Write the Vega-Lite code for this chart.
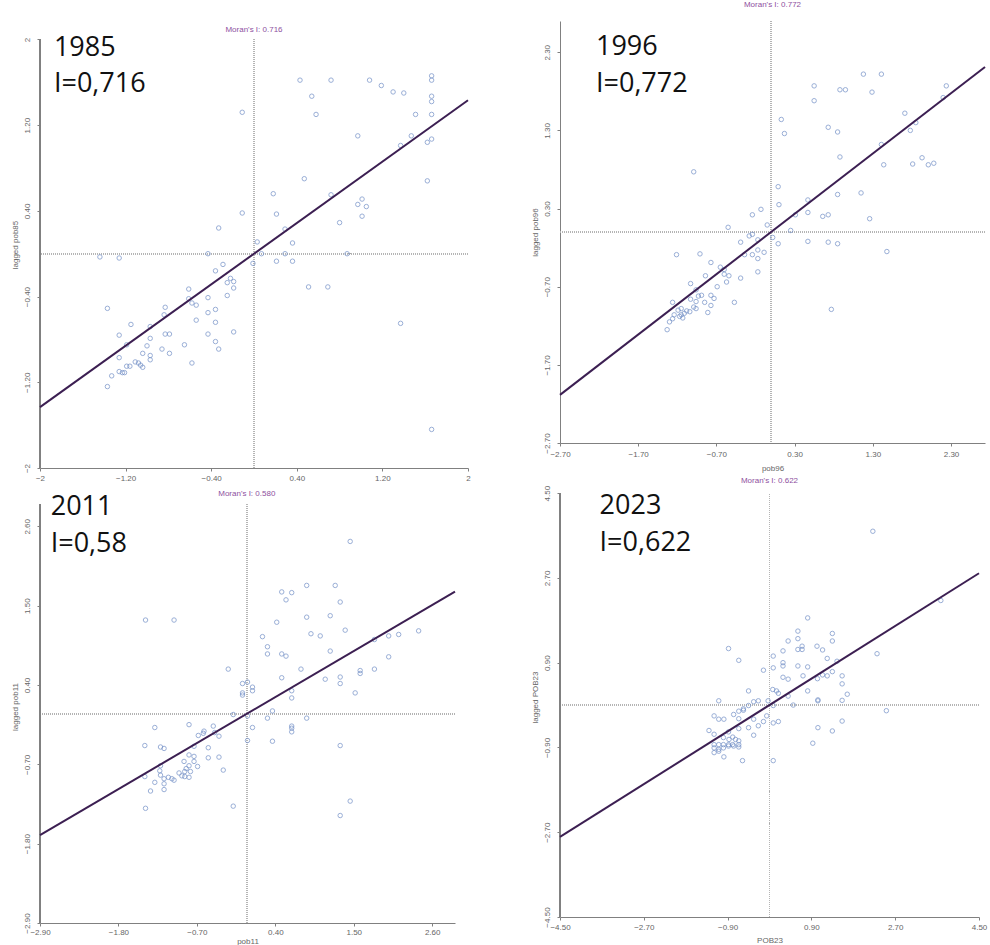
{
  "$schema": "https://vega.github.io/schema/vega-lite/v6.json",
  "padding": {"left": 11, "top": 0, "right": 0, "bottom": 0},
  "background": "white",
  "columns": 2,
  "spacing": 58,
  "resolve": {"scale": {"x": "independent", "y": "independent"}},
  "config": {
    "view": {"stroke": null},
    "font": "Liberation Sans",
    "axis": {"domainColor": "#808080", "tickColor": "#808080", "tickSize": 3, "labelColor": "#666666", "labelFontSize": 8, "titleColor": "#666666", "titleFontSize": 8, "titleFontWeight": "normal", "grid": false, "labelFont": "Liberation Sans", "titleFont": "Liberation Sans", "labelFlush": false, "labelOverlap": false},
    "axisY": {"labelAngle": -90, "labelPadding": 6, "titlePadding": 4},
    "axisX": {"labelPadding": 3, "titlePadding": 5},
    "title": {"fontSize": 8, "color": "#8e4fa0", "fontWeight": "normal", "font": "Liberation Sans", "frame": "group"}
  },
  "datasets": {
    "p85": [
      {"x":0.43,"y":1.62},{"x":0.72,"y":1.62},{"x":1.08,"y":1.62},{"x":1.66,"y":1.66},{"x":1.66,"y":1.62},{"x":1.19,"y":1.57},{"x":1.30,"y":1.51},{"x":1.40,"y":1.50},{"x":0.54,"y":1.47},{"x":1.66,"y":1.47},{"x":1.66,"y":1.42},{"x":0.58,"y":1.30},{"x":1.51,"y":1.30},{"x":1.66,"y":1.30},{"x":-0.11,"y":1.32},{"x":0.97,"y":1.10},{"x":1.47,"y":1.10},{"x":1.37,"y":1.01},{"x":1.62,"y":1.04},{"x":1.66,"y":1.07},{"x":0.47,"y":0.70},{"x":1.62,"y":0.68},{"x":0.18,"y":0.56},{"x":0.72,"y":0.55},{"x":0.97,"y":0.46},{"x":1.01,"y":0.51},{"x":1.05,"y":0.44},{"x":1.01,"y":0.35},{"x":-0.11,"y":0.38},{"x":0.21,"y":0.37},{"x":0.80,"y":0.29},{"x":-0.33,"y":0.24},{"x":0.29,"y":0.23},{"x":0.36,"y":0.10},{"x":0.03,"y":0.11},{"x":0.07,"y":0.00},{"x":0.29,"y":0.00},{"x":0.87,"y":0.00},{"x":-0.43,"y":0.00},{"x":-0.01,"y":-0.09},{"x":0.21,"y":-0.07},{"x":0.36,"y":-0.07},{"x":-1.44,"y":-0.03},{"x":-1.26,"y":-0.04},{"x":0.51,"y":-0.31},{"x":0.69,"y":-0.31},{"x":1.37,"y":-0.65},{"x":1.66,"y":-1.64},
      {"x":-0.29,"y":-0.10},{"x":-0.36,"y":-0.16},{"x":-0.22,"y":-0.23},{"x":-0.19,"y":-0.26},{"x":-0.25,"y":-0.27},{"x":-0.19,"y":-0.32},{"x":-0.61,"y":-0.33},{"x":-0.25,"y":-0.39},{"x":-0.61,"y":-0.42},{"x":-0.43,"y":-0.41},{"x":-0.58,"y":-0.46},{"x":-0.54,"y":-0.48},{"x":-0.83,"y":-0.50},{"x":-1.37,"y":-0.51},{"x":-0.36,"y":-0.52},{"x":-0.43,"y":-0.55},{"x":-0.84,"y":-0.57},{"x":-0.54,"y":-0.62},{"x":-0.36,"y":-0.64},{"x":-1.15,"y":-0.66},{"x":-0.97,"y":-0.68},{"x":-1.26,"y":-0.76},{"x":-0.83,"y":-0.75},{"x":-0.79,"y":-0.75},{"x":-0.43,"y":-0.75},{"x":-0.19,"y":-0.73},{"x":-0.97,"y":-0.79},{"x":-0.36,"y":-0.82},{"x":-0.65,"y":-0.85},{"x":-1.00,"y":-0.86},{"x":-1.19,"y":-0.85},{"x":-0.33,"y":-0.89},{"x":-0.86,"y":-0.89},{"x":-1.04,"y":-0.93},{"x":-0.79,"y":-0.93},{"x":-0.97,"y":-0.95},{"x":-0.97,"y":-0.99},{"x":-1.26,"y":-0.97},{"x":-1.11,"y":-1.01},{"x":-1.08,"y":-1.02},{"x":-1.06,"y":-1.04},{"x":-1.04,"y":-1.06},{"x":-1.19,"y":-1.05},{"x":-1.16,"y":-1.05},{"x":-0.58,"y":-1.02},{"x":-1.26,"y":-1.10},{"x":-1.23,"y":-1.11},{"x":-1.33,"y":-1.14},{"x":-1.37,"y":-1.24},{"x":-1.21,"y":-1.11}
    ],
    "p96": [
      {"x":1.18,"y":2.02},{"x":1.41,"y":2.02},{"x":0.55,"y":1.87},{"x":0.88,"y":1.82},{"x":0.95,"y":1.82},{"x":1.29,"y":1.79},{"x":2.24,"y":1.87},{"x":2.20,"y":1.72},{"x":0.55,"y":1.68},{"x":1.71,"y":1.52},{"x":0.13,"y":1.44},{"x":0.17,"y":1.26},{"x":0.73,"y":1.34},{"x":0.85,"y":1.28},{"x":1.85,"y":1.40},{"x":1.78,"y":1.30},{"x":1.41,"y":1.12},{"x":0.88,"y":0.96},{"x":1.93,"y":0.95},{"x":1.44,"y":0.86},{"x":1.81,"y":0.87},{"x":2.01,"y":0.86},{"x":2.08,"y":0.88},{"x":-0.99,"y":0.77},{"x":0.09,"y":0.58},{"x":1.15,"y":0.50},{"x":0.85,"y":0.48},{"x":0.10,"y":0.35},{"x":0.47,"y":0.41},{"x":-0.13,"y":0.29},{"x":-0.24,"y":0.22},{"x":0.47,"y":0.25},{"x":0.66,"y":0.20},{"x":0.73,"y":0.22},{"x":0.31,"y":0.22},{"x":1.26,"y":0.17},{"x":-0.05,"y":0.09},{"x":0.25,"y":0.02},{"x":-0.55,"y":0.06},{"x":0.02,"y":-0.07},{"x":0.09,"y":-0.15},{"x":0.47,"y":-0.12},{"x":0.73,"y":-0.13},{"x":0.85,"y":-0.15},{"x":1.48,"y":-0.25},{"x":-1.21,"y":-0.29},{"x":-0.91,"y":-0.28},{"x":0.77,"y":-0.99},{"x":-0.24,"y":-0.03},{"x":-0.28,"y":-0.05},{"x":-0.39,"y":-0.13},{"x":-0.17,"y":-0.10},{"x":-0.17,"y":-0.23},{"x":-0.09,"y":-0.26},{"x":-0.24,"y":-0.29},{"x":-0.34,"y":-0.29},{"x":-0.17,"y":-0.34},{"x":-0.77,"y":-0.39},{"x":-0.65,"y":-0.45},{"x":-0.60,"y":-0.48},{"x":-0.60,"y":-0.54},{"x":-0.54,"y":-0.56},{"x":-0.57,"y":-0.64},{"x":-0.17,"y":-0.51},{"x":-0.39,"y":-0.59},{"x":-0.84,"y":-0.56},{"x":-1.03,"y":-0.66},{"x":-0.69,"y":-0.70},{"x":-0.96,"y":-0.74},{"x":-0.89,"y":-0.81},{"x":-0.93,"y":-0.82},{"x":-0.77,"y":-0.81},{"x":-0.73,"y":-0.85},{"x":-1.03,"y":-0.86},{"x":-0.85,"y":-0.90},{"x":-0.77,"y":-0.94},{"x":-0.47,"y":-0.90},{"x":-1.26,"y":-0.90},{"x":-1.15,"y":-0.98},{"x":-1.19,"y":-1.00},{"x":-0.99,"y":-0.96},{"x":-0.96,"y":-0.98},{"x":-1.08,"y":-1.01},{"x":-1.04,"y":-1.02},{"x":-1.11,"y":-1.04},{"x":-1.15,"y":-1.06},{"x":-1.13,"y":-1.10},{"x":-0.81,"y":-1.03},{"x":-1.24,"y":-1.06},{"x":-1.26,"y":-1.11},{"x":-1.30,"y":-1.15},{"x":-1.33,"y":-1.25},{"x":-1.17,"y":-1.08},{"x":-0.96,"y":-0.89}
    ],
    "p11": [
      {"x":1.45,"y":2.39},{"x":0.84,"y":1.78},{"x":1.24,"y":1.78},{"x":0.49,"y":1.69},{"x":0.63,"y":1.68},{"x":0.55,"y":1.58},{"x":1.31,"y":1.55},{"x":-1.42,"y":1.30},{"x":-1.02,"y":1.30},{"x":0.84,"y":1.34},{"x":1.17,"y":1.36},{"x":0.42,"y":1.27},{"x":1.38,"y":1.16},{"x":2.41,"y":1.15},{"x":0.90,"y":1.11},{"x":1.03,"y":1.08},{"x":1.99,"y":1.08},{"x":2.13,"y":1.10},{"x":0.22,"y":1.07},{"x":1.79,"y":1.03},{"x":0.29,"y":0.93},{"x":0.29,"y":0.83},{"x":0.49,"y":0.83},{"x":0.55,"y":0.80},{"x":1.17,"y":0.87},{"x":1.99,"y":0.79},{"x":-0.26,"y":0.62},{"x":0.76,"y":0.62},{"x":1.79,"y":0.62},{"x":1.59,"y":0.60},{"x":1.59,"y":0.56},{"x":0.49,"y":0.50},{"x":1.10,"y":0.48},{"x":1.31,"y":0.51},{"x":1.31,"y":0.42},{"x":1.52,"y":0.29},{"x":0.01,"y":0.44},{"x":-0.06,"y":0.42},{"x":-0.06,"y":0.29},{"x":-0.06,"y":0.26},{"x":0.08,"y":0.37},{"x":0.08,"y":0.32},{"x":0.63,"y":0.32},{"x":0.63,"y":0.22},{"x":-0.19,"y":-0.01},{"x":0.36,"y":0.04},{"x":0.01,"y":-0.03},{"x":0.29,"y":-0.06},{"x":0.84,"y":-0.06},{"x":0.08,"y":-0.19},{"x":0.63,"y":-0.17},{"x":0.63,"y":-0.20},{"x":0.63,"y":-0.25},{"x":0.01,"y":-0.37},{"x":0.36,"y":-0.38},{"x":1.31,"y":-0.44},{"x":1.45,"y":-1.21},{"x":1.31,"y":-1.41},{"x":-0.19,"y":-1.28},{"x":-1.42,"y":-1.31},
      {"x":-1.29,"y":-0.19},{"x":-0.81,"y":-0.15},{"x":-0.47,"y":-0.17},{"x":-0.60,"y":-0.24},{"x":-0.61,"y":-0.27},{"x":-0.68,"y":-0.30},{"x":-0.45,"y":-0.26},{"x":-0.39,"y":-0.31},{"x":-1.43,"y":-0.44},{"x":-1.21,"y":-0.46},{"x":-1.16,"y":-0.48},{"x":-0.74,"y":-0.45},{"x":-0.54,"y":-0.47},{"x":-0.81,"y":-0.57},{"x":-0.74,"y":-0.59},{"x":-0.54,"y":-0.61},{"x":-0.39,"y":-0.60},{"x":-0.88,"y":-0.66},{"x":-0.74,"y":-0.66},{"x":-0.69,"y":-0.73},{"x":-0.81,"y":-0.72},{"x":-0.85,"y":-0.76},{"x":-0.79,"y":-0.80},{"x":-0.87,"y":-0.80},{"x":-1.21,"y":-0.72},{"x":-1.22,"y":-0.79},{"x":-0.95,"y":-0.82},{"x":-0.91,"y":-0.86},{"x":-0.87,"y":-0.87},{"x":-0.81,"y":-0.88},{"x":-1.10,"y":-0.88},{"x":-1.05,"y":-0.90},{"x":-1.02,"y":-0.92},{"x":-1.16,"y":-0.90},{"x":-1.21,"y":-0.85},{"x":-1.43,"y":-0.87},{"x":-1.29,"y":-0.95},{"x":-1.16,"y":-0.97},{"x":-1.35,"y":-1.07},{"x":-1.16,"y":-1.05},{"x":-0.33,"y":-0.78}
    ],
    "p23": [
      {"x":2.22,"y":3.69},{"x":3.68,"y":2.22},{"x":2.31,"y":1.09},{"x":2.51,"y":-0.12},{"x":0.82,"y":1.85},{"x":0.61,"y":1.57},{"x":1.35,"y":1.52},{"x":1.35,"y":1.36},{"x":0.40,"y":1.36},{"x":0.61,"y":1.41},{"x":0.61,"y":1.18},{"x":0.70,"y":1.18},{"x":0.70,"y":1.25},{"x":1.02,"y":1.25},{"x":1.14,"y":1.17},{"x":-0.88,"y":1.20},{"x":0.29,"y":1.15},{"x":-0.66,"y":0.95},{"x":0.08,"y":1.04},{"x":1.24,"y":0.99},{"x":0.29,"y":0.90},{"x":0.29,"y":0.83},{"x":0.61,"y":0.83},{"x":0.08,"y":0.79},{"x":0.82,"y":0.81},{"x":-0.13,"y":0.74},{"x":1.45,"y":0.93},{"x":1.35,"y":0.71},{"x":0.29,"y":0.59},{"x":0.40,"y":0.55},{"x":0.72,"y":0.62},{"x":1.03,"y":0.56},{"x":1.14,"y":0.64},{"x":1.24,"y":0.62},{"x":1.56,"y":0.62},{"x":1.56,"y":0.45},{"x":-0.45,"y":0.30},{"x":0.07,"y":0.33},{"x":0.15,"y":0.30},{"x":0.19,"y":0.25},{"x":0.40,"y":0.19},{"x":0.82,"y":0.30},{"x":1.67,"y":0.23},{"x":1.04,"y":0.11},{"x":1.04,"y":0.09},{"x":1.56,"y":0.10},{"x":0.51,"y":0.00},{"x":-1.09,"y":0.09},{"x":-0.03,"y":0.09},{"x":-0.24,"y":0.09},{"x":-0.34,"y":0.07},{"x":-0.45,"y":-0.01},{"x":-0.56,"y":-0.08},{"x":-0.66,"y":-0.13},{"x":0.08,"y":-0.01},{"x":-0.06,"y":-0.23},{"x":-0.34,"y":-0.30},{"x":-0.56,"y":-0.11},{"x":-0.77,"y":-0.20},{"x":-1.19,"y":-0.23},{"x":-1.09,"y":-0.30},{"x":-0.98,"y":-0.30},{"x":-0.66,"y":-0.29},{"x":-0.13,"y":-0.35},{"x":-0.24,"y":-0.44},{"x":-0.45,"y":-0.48},{"x":0.08,"y":-0.38},{"x":0.19,"y":-0.35},{"x":-1.30,"y":-0.54},{"x":-0.66,"y":-0.50},{"x":-0.34,"y":-0.64},{"x":-0.88,"y":-0.57},{"x":-1.19,"y":-0.62},{"x":-0.99,"y":-0.69},{"x":-0.79,"y":-0.68},{"x":-0.66,"y":-0.76},{"x":-1.19,"y":-0.84},{"x":-1.09,"y":-0.84},{"x":-0.99,"y":-0.84},{"x":-0.88,"y":-0.84},{"x":-0.79,"y":-0.84},{"x":-0.66,"y":-0.84},{"x":-1.19,"y":-0.91},{"x":-1.09,"y":-0.94},{"x":-0.99,"y":-0.91},{"x":-0.88,"y":-0.87},{"x":-0.77,"y":-0.87},{"x":-0.66,"y":-0.89},{"x":-1.19,"y":-1.01},{"x":-1.09,"y":-0.98},{"x":-0.98,"y":-1.10},{"x":-0.58,"y":-1.18},{"x":0.08,"y":-1.18},{"x":0.93,"y":-0.81},{"x":1.04,"y":-0.48},{"x":1.35,"y":-0.55},{"x":1.56,"y":-0.34},{"x":-0.73,"y":-0.73},{"x":-0.87,"y":-0.73}
    ],
    "l85": [{"x":-2,"y":-1.432},{"x":2,"y":1.432}],
    "l96": [{"x":-2.7,"y":-2.084},{"x":2.735,"y":2.111}],
    "l11": [{"x":-2.9,"y":-1.682},{"x":2.92,"y":1.694}],
    "l23": [{"x":-4.5,"y":-2.799},{"x":4.5,"y":2.799}],
    "t85": [{"x":-1.87,"y":1.85,"t":"1985"},{"x":-1.87,"y":1.51,"t":"I=0,716"}],
    "t96": [{"x":-2.24,"y":2.26,"t":"1996"},{"x":-2.24,"y":1.79,"t":"I=0,772"}],
    "t11": [{"x":-2.75,"y":2.76,"t":"2011"},{"x":-2.75,"y":2.25,"t":"I=0,58"}],
    "t23": [{"x":-3.65,"y":4.06,"t":"2023"},{"x":-3.65,"y":3.27,"t":"I=0,622"}],
    "m85": [{"x":0,"y":2.088,"t":"Moran's I: 0.716"}],
    "m11": [{"x":0,"y":3.048,"t":"Moran's I: 0.580"}],
    "m23": [{"x":0,"y":4.757,"t":"Moran's I: 0.622"}]
  },
  "concat": [
    {
      "columns": 1,
      "spacing": 7,
      "resolve": {"scale": {"x": "independent", "y": "independent"}},
      "concat": [
        {
          "width": 428, "height": 447,
          "layer": [
            {"data": {"name": "p85"}, "mark": {"type": "rule", "color": "#b4b4b4", "strokeWidth": 1, "strokeDash": [1, 1]},
             "encoding": {"x": {"datum": 0, "type": "quantitative", "scale": {"domain": [-2, 2], "nice": false, "zero": false},
               "axis": {"values": [-2, -1.2, -0.4, 0.4, 1.2, 2], "labelExpr": "abs(datum.value) > 1.9 ? format(datum.value, 'd') : format(datum.value, '.2f')", "title": null}},
               "y": {"datum": -2, "type": "quantitative", "scale": {"domain": [-2, 2.172], "nice": false, "zero": false},
               "axis": {"values": [-2, -1.2, -0.4, 0.4, 1.2, 2], "labelExpr": "abs(datum.value) > 1.9 ? format(datum.value, 'd') : format(datum.value, '.2f')", "title": "lagged pob85", "domain": false}},
               "y2": {"datum": 2}}},
            {"data": {"name": "p85"}, "mark": {"type": "rule", "color": "#b4b4b4", "strokeWidth": 1, "strokeDash": [1, 1]},
             "encoding": {"y": {"datum": 0, "type": "quantitative"}}},
            {"data": {"name": "p85"}, "mark": {"type": "rule", "color": "#808080", "strokeWidth": 1},
             "encoding": {"x": {"datum": -2, "type": "quantitative"}, "y": {"datum": -2, "type": "quantitative"}, "y2": {"datum": 2}}},
            {"data": {"name": "p85"}, "mark": {"type": "point", "shape": "circle", "filled": false, "size": 20, "strokeWidth": 1, "color": "#6f8dc6"},
             "encoding": {"x": {"field": "x", "type": "quantitative"}, "y": {"field": "y", "type": "quantitative"}}},
            {"data": {"name": "l85"}, "mark": {"type": "line", "color": "#3c1f52", "strokeWidth": 2},
             "encoding": {"x": {"field": "x", "type": "quantitative"}, "y": {"field": "y", "type": "quantitative"}}},
            {"data": {"name": "t85"}, "mark": {"type": "text", "align": "left", "baseline": "alphabetic", "font": "Open Sans", "fontSize": 27, "color": "#111111"},
             "encoding": {"x": {"field": "x", "type": "quantitative"}, "y": {"field": "y", "type": "quantitative"}, "text": {"field": "t"}}},
            {"data": {"name": "m85"}, "mark": {"type": "text", "align": "center", "baseline": "middle", "font": "Liberation Sans", "fontSize": 8, "color": "#8e4fa0"},
             "encoding": {"x": {"field": "x", "type": "quantitative"}, "y": {"field": "y", "type": "quantitative"}, "text": {"field": "t"}}}
          ]
        },
        {
          "width": 415, "height": 433,
          "layer": [
            {"data": {"name": "p11"}, "mark": {"type": "rule", "color": "#b4b4b4", "strokeWidth": 1, "strokeDash": [1, 1]},
             "encoding": {"x": {"datum": 0, "type": "quantitative", "scale": {"domain": [-2.9, 2.92], "nice": false, "zero": false},
               "axis": {"values": [-2.9, -1.8, -0.7, 0.4, 1.5, 2.6], "format": ".2f", "title": "pob11", "labelPadding": 2, "titlePadding": 1}},
               "y": {"datum": -2.9, "type": "quantitative", "scale": {"domain": [-2.9, 3.103], "nice": false, "zero": false},
               "axis": {"values": [-2.9, -1.8, -0.7, 0.4, 1.5, 2.6], "format": ".2f", "title": "lagged pob11", "domain": false}},
               "y2": {"datum": 2.9}}},
            {"data": {"name": "p11"}, "mark": {"type": "rule", "color": "#b4b4b4", "strokeWidth": 1, "strokeDash": [1, 1]},
             "encoding": {"y": {"datum": 0, "type": "quantitative"}}},
            {"data": {"name": "p11"}, "mark": {"type": "rule", "color": "#808080", "strokeWidth": 1},
             "encoding": {"x": {"datum": -2.9, "type": "quantitative"}, "y": {"datum": -2.9, "type": "quantitative"}, "y2": {"datum": 2.9}}},
            {"data": {"name": "p11"}, "mark": {"type": "point", "shape": "circle", "filled": false, "size": 20, "strokeWidth": 1, "color": "#6f8dc6"},
             "encoding": {"x": {"field": "x", "type": "quantitative"}, "y": {"field": "y", "type": "quantitative"}}},
            {"data": {"name": "l11"}, "mark": {"type": "line", "color": "#3c1f52", "strokeWidth": 2},
             "encoding": {"x": {"field": "x", "type": "quantitative"}, "y": {"field": "y", "type": "quantitative"}}},
            {"data": {"name": "t11"}, "mark": {"type": "text", "align": "left", "baseline": "alphabetic", "font": "Open Sans", "fontSize": 27, "color": "#111111"},
             "encoding": {"x": {"field": "x", "type": "quantitative"}, "y": {"field": "y", "type": "quantitative"}, "text": {"field": "t"}}},
            {"data": {"name": "m11"}, "mark": {"type": "text", "align": "center", "baseline": "middle", "font": "Liberation Sans", "fontSize": 8, "color": "#8e4fa0"},
             "encoding": {"x": {"field": "x", "type": "quantitative"}, "y": {"field": "y", "type": "quantitative"}, "text": {"field": "t"}}}
          ]
        }
      ]
    },
    {
      "columns": 1,
      "spacing": 5,
      "resolve": {"scale": {"x": "independent", "y": "independent"}},
      "concat": [
        {
          "width": 425, "height": 422,
          "title": {"text": "Moran's I: 0.772", "offset": 12},
          "layer": [
            {"data": {"name": "p96"}, "mark": {"type": "rule", "color": "#b4b4b4", "strokeWidth": 1, "strokeDash": [1, 1]},
             "encoding": {"x": {"datum": 0, "type": "quantitative", "scale": {"domain": [-2.7, 2.735], "nice": false, "zero": false},
               "axis": {"values": [-2.7, -1.7, -0.7, 0.3, 1.3, 2.3], "format": ".2f", "title": "pob96", "labelPadding": 4, "titlePadding": 6}}}},
            {"data": {"name": "p96"}, "mark": {"type": "rule", "color": "#b4b4b4", "strokeWidth": 1, "strokeDash": [1, 1]},
             "encoding": {"y": {"datum": 0, "type": "quantitative", "scale": {"domain": [-2.7, 2.7], "nice": false, "zero": false},
               "axis": {"values": [-2.7, -1.7, -0.7, 0.3, 1.3, 2.3], "format": ".2f", "title": "lagged pob96"}}}},
            {"data": {"name": "p96"}, "mark": {"type": "point", "shape": "circle", "filled": false, "size": 20, "strokeWidth": 1, "color": "#6f8dc6"},
             "encoding": {"x": {"field": "x", "type": "quantitative"}, "y": {"field": "y", "type": "quantitative"}}},
            {"data": {"name": "l96"}, "mark": {"type": "line", "color": "#3c1f52", "strokeWidth": 2},
             "encoding": {"x": {"field": "x", "type": "quantitative"}, "y": {"field": "y", "type": "quantitative"}}},
            {"data": {"name": "t96"}, "mark": {"type": "text", "align": "left", "baseline": "alphabetic", "font": "Open Sans", "fontSize": 27, "color": "#111111"},
             "encoding": {"x": {"field": "x", "type": "quantitative"}, "y": {"field": "y", "type": "quantitative"}, "text": {"field": "t"}}}
          ]
        },
        {
          "width": 419, "height": 440,
          "layer": [
            {"data": {"name": "p23"}, "mark": {"type": "rule", "color": "#b4b4b4", "strokeWidth": 1, "strokeDash": [1, 1]},
             "encoding": {"x": {"datum": 0, "type": "quantitative", "scale": {"domain": [-4.5, 4.5], "nice": false, "zero": false},
               "axis": {"values": [-4.5, -2.7, -0.9, 0.9, 2.7, 4.5], "format": ".2f", "title": "POB23", "titlePadding": 5}},
               "y": {"datum": -4.5, "type": "quantitative", "scale": {"domain": [-4.5, 4.842], "nice": false, "zero": false},
               "axis": {"values": [-4.5, -2.7, -0.9, 0.9, 2.7, 4.5], "format": ".2f", "title": "lagged POB23", "domain": false}},
               "y2": {"datum": 4.5}}},
            {"data": {"name": "p23"}, "mark": {"type": "rule", "color": "#b4b4b4", "strokeWidth": 1, "strokeDash": [1, 1]},
             "encoding": {"y": {"datum": 0, "type": "quantitative"}}},
            {"data": {"name": "p23"}, "mark": {"type": "rule", "color": "#808080", "strokeWidth": 1},
             "encoding": {"x": {"datum": -4.5, "type": "quantitative"}, "y": {"datum": -4.5, "type": "quantitative"}, "y2": {"datum": 4.5}}},
            {"data": {"name": "p23"}, "mark": {"type": "point", "shape": "circle", "filled": false, "size": 20, "strokeWidth": 1, "color": "#6f8dc6"},
             "encoding": {"x": {"field": "x", "type": "quantitative"}, "y": {"field": "y", "type": "quantitative"}}},
            {"data": {"name": "l23"}, "mark": {"type": "line", "color": "#3c1f52", "strokeWidth": 2},
             "encoding": {"x": {"field": "x", "type": "quantitative"}, "y": {"field": "y", "type": "quantitative"}}},
            {"data": {"name": "t23"}, "mark": {"type": "text", "align": "left", "baseline": "alphabetic", "font": "Open Sans", "fontSize": 27, "color": "#111111"},
             "encoding": {"x": {"field": "x", "type": "quantitative"}, "y": {"field": "y", "type": "quantitative"}, "text": {"field": "t"}}},
            {"data": {"name": "m23"}, "mark": {"type": "text", "align": "center", "baseline": "middle", "font": "Liberation Sans", "fontSize": 8, "color": "#8e4fa0"},
             "encoding": {"x": {"field": "x", "type": "quantitative"}, "y": {"field": "y", "type": "quantitative"}, "text": {"field": "t"}}}
          ]
        }
      ]
    }
  ]
}
